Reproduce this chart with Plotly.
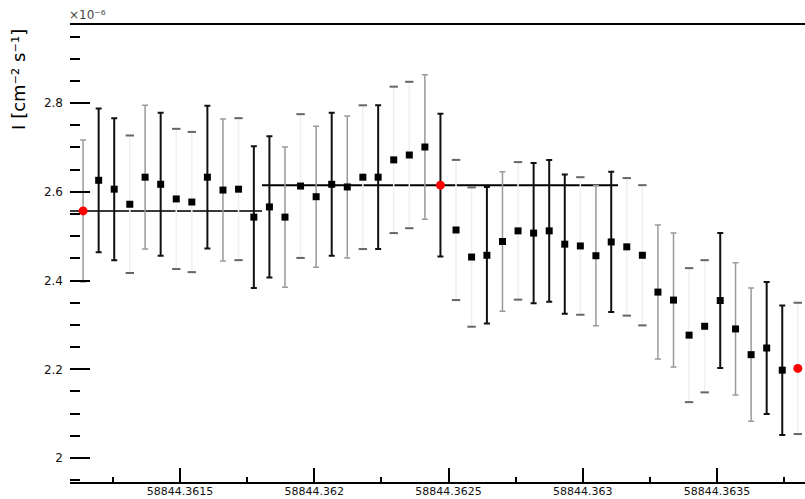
import plotly.graph_objects as go

# Light-curve bins (MJD), flux values and 1-sigma errors
mjd = [
    58844.361139, 58844.361197, 58844.361255, 58844.361313, 58844.361370,
    58844.361428, 58844.361486, 58844.361544, 58844.361602, 58844.361660,
    58844.361718, 58844.361775, 58844.361833, 58844.361891, 58844.361949,
    58844.362007, 58844.362065, 58844.362123, 58844.362181, 58844.362238,
    58844.362296, 58844.362354, 58844.362412, 58844.362470, 58844.362528,
    58844.362586, 58844.362643, 58844.362701, 58844.362759, 58844.362817,
    58844.362875, 58844.362933, 58844.362991, 58844.363049, 58844.363106,
    58844.363164, 58844.363222, 58844.363280, 58844.363338, 58844.363396,
    58844.363454, 58844.363512, 58844.363569, 58844.363627, 58844.363685,
    58844.363743, 58844.363801,
]
flux = [
    2.557, 2.626, 2.606, 2.572, 2.633, 2.617, 2.584, 2.577, 2.633, 2.604,
    2.606, 2.543, 2.566, 2.543, 2.613, 2.589, 2.617, 2.611, 2.633, 2.633,
    2.672, 2.683, 2.701, 2.615, 2.514, 2.453, 2.457, 2.488, 2.512, 2.507,
    2.512, 2.482, 2.478, 2.456, 2.487, 2.476, 2.457, 2.374, 2.356, 2.277,
    2.297, 2.355, 2.291, 2.233, 2.248, 2.198, 2.202,
]
flux_err = [
    0.160, 0.162, 0.160, 0.155, 0.162, 0.161, 0.158, 0.158, 0.161, 0.160,
    0.160, 0.160, 0.159, 0.158, 0.162, 0.159, 0.161, 0.160, 0.162, 0.162,
    0.165, 0.165, 0.163, 0.161, 0.158, 0.157, 0.154, 0.157, 0.155, 0.158,
    0.160, 0.157, 0.155, 0.158, 0.158, 0.155, 0.158, 0.151, 0.151, 0.151,
    0.149, 0.152, 0.149, 0.150, 0.149, 0.146, 0.148,
]
# change points highlighted in red
change_points = [0, 23, 46]

# constant-rate blocks
block_start = [58844.3610903, 58844.3618054]
block_end = [58844.3618054, 58844.3631313]
block_level = [2.557, 2.615]

# x tick labels
x_tickvals = [58844.3615, 58844.3620, 58844.3625, 58844.3630, 58844.3635]
x_ticktext = ["58844.3615", "58844.362", "58844.3625", "58844.363", "58844.3635"]
y_tickvals = [2.0, 2.2, 2.4, 2.6, 2.8]
y_ticktext = ["2", "2.2", "2.4", "2.6", "2.8"]

# rendering shade of each error bar: d = dark, m = mid grey, f = faint
bar_shade = list("mddfmdffdmfddmfmdmfdffmdffdmfdddfmdffmmffdmmddf")
shade_color = {"d": "#111111", "m": "#9a9a9a", "f": "#f0f0f0"}

FONT = "DejaVu Sans"

fig = go.Figure()

# blocks
for i in range(len(block_level)):
    fig.add_trace(go.Scatter(
        x=[block_start[i], block_end[i]], y=[block_level[i], block_level[i]],
        mode="lines", line=dict(color="#3a3a3a" if i == 0 else "#000000", width=2),
        hoverinfo="skip", showlegend=False,
    ))

# error bars grouped by shade
for shade, col in shade_color.items():
    idx = [i for i, s in enumerate(bar_shade) if s == shade]
    fig.add_trace(go.Scatter(
        x=[mjd[i] for i in idx], y=[flux[i] for i in idx],
        mode="markers", marker=dict(size=1, opacity=0),
        error_y=dict(type="data", array=[flux_err[i] for i in idx],
                     color=col, thickness=2 if shade == "d" else 1.5, width=3),
        hoverinfo="skip", showlegend=False,
    ))
    if shade == "f":
        # caps of the faint bars
        caps_x = [mjd[i] for i in idx] * 2
        caps_y = [flux[i] + flux_err[i] for i in idx] + [flux[i] - flux_err[i] for i in idx]
        fig.add_trace(go.Scatter(
            x=caps_x, y=caps_y, mode="markers",
            marker=dict(symbol="line-ew", size=6, line=dict(color="#666666", width=2)),
            hoverinfo="skip", showlegend=False,
        ))

# data points
fig.add_trace(go.Scatter(
    x=[m for i, m in enumerate(mjd) if i not in change_points],
    y=[f for i, f in enumerate(flux) if i not in change_points],
    mode="markers", marker=dict(symbol="square", size=7, color="#000000"),
    showlegend=False,
))
fig.add_trace(go.Scatter(
    x=[mjd[i] for i in change_points], y=[flux[i] for i in change_points],
    mode="markers", marker=dict(symbol="circle", size=9, color="#ff0000"),
    showlegend=False,
))

fig.update_layout(
    width=805, height=499,
    margin=dict(l=70, r=0, t=25, b=17),
    paper_bgcolor="white", plot_bgcolor="white",
    font=dict(family=FONT, size=12, color="#000000"),
    showlegend=False,
    xaxis=dict(
        range=[58844.3610903, 58844.3638277],
        showline=True, linecolor="#000000", linewidth=2, mirror=True,
        showgrid=False, zeroline=False,
        ticks="inside", ticklen=14, tickwidth=1.5, tickcolor="#000000",
        tickmode="array", tickvals=x_tickvals, ticktext=x_ticktext,
        tickfont=dict(family=FONT, size=11, color="#111111"),
        ticklabelstandoff=-2,
        minor=dict(ticks="inside", ticklen=5, tickwidth=1.5, tickcolor="#000000",
                   tickmode="linear", tick0=58844.3615, dtick=0.00025),
        automargin=False,
    ),
    yaxis=dict(
        range=[1.946, 2.976],
        showline=False, showgrid=False, zeroline=False,
        ticks="inside", ticklen=20, tickwidth=2, tickcolor="#000000",
        tickmode="array", tickvals=y_tickvals, ticktext=y_ticktext,
        tickfont=dict(family=FONT, size=12, color="#111111"),
        ticklabelstandoff=6,
        minor=dict(ticks="inside", ticklen=10, tickwidth=2, tickcolor="#000000",
                   tickmode="linear", tick0=2.0, dtick=0.05),
        automargin=False,
    ),
    annotations=[
        dict(text="I [cm⁻² s⁻¹]", textangle=-90, xref="paper", yref="paper",
             x=-0.07, y=0.996, xanchor="center", yanchor="top", showarrow=False,
             font=dict(family=FONT, size=18, color="#000000")),
        dict(text="×10⁻⁶", xref="paper", yref="paper",
             x=-0.004, y=1.022, xanchor="left", yanchor="middle", showarrow=False,
             font=dict(family=FONT, size=12, color="#444444")),
    ],
)

fig.write_html("out.html")
